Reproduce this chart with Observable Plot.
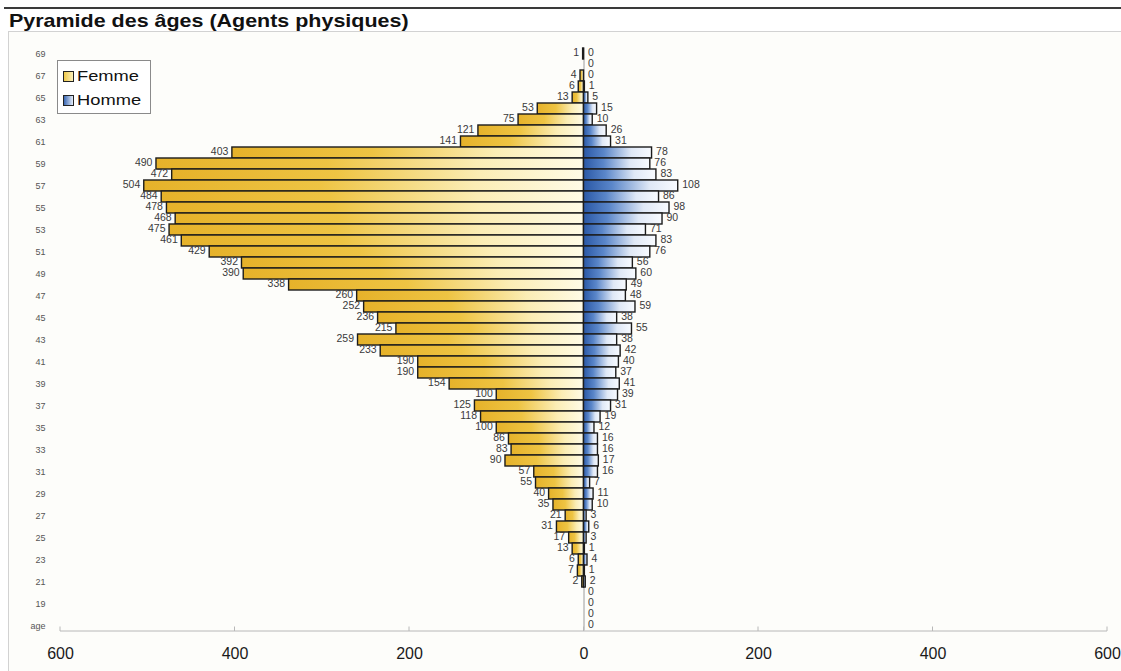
<!DOCTYPE html>
<html lang="fr">
<head>
<meta charset="utf-8">
<title>Pyramide des âges</title>
<script src="https://cdn.jsdelivr.net/npm/d3@7"></script>
<script src="https://cdn.jsdelivr.net/npm/@observablehq/plot@0.6"></script>
<style>
  body { margin: 0; background: #fff; font-family: "Liberation Sans", Arial, sans-serif; }
  #page { position: relative; width: 1121px; height: 671px; overflow: hidden; background: #fff; }
  #topline { position: absolute; left: 4px; top: 7px; width: 1117px; height: 2px; background: #3a3a3a; }
  #title { position: absolute; left: 9px; top: 10px; font-weight: bold; font-size: 18.5px; color: #111; white-space: nowrap;
           transform: scaleX(1.16); transform-origin: 0 0; }
  #box { position: absolute; left: 8px; top: 31px; width: 1130px; height: 660px; border: 1px solid #d2d2d2; background: #fdfdfa; }
  #chart { position: absolute; left: 0; top: 31px; }
  #legend { position: absolute; left: 57px; top: 60px; width: 92px; height: 52px; border: 1px solid #8a8a8a; background: #fff; }
  #legend .sw { position: absolute; left: 5px; width: 9px; height: 9px; border: 1px solid #222; }
  #legend .lab { position: absolute; left: 19px; font-size: 15px; color: #111; line-height: 18px; white-space: nowrap;
                 transform: scaleX(1.22); transform-origin: 0 50%; }
</style>
</head>
<body>
<div id="page">
  <div id="topline"></div>
  <div id="box"></div>
  <div id="title">Pyramide des âges (Agents physiques)</div>
  <div id="chart"></div>
  <div id="legend">
    <span class="sw" style="top:10px;background:linear-gradient(90deg,#eec84a,#fbf0bb)"></span>
    <div class="lab" style="top:6px">Femme</div>
    <span class="sw" style="top:34px;background:linear-gradient(90deg,#3b68b4,#e6eefa)"></span>
    <div class="lab" style="top:30px">Homme</div>
  </div>
</div>
<script>
// Age classes, top (oldest) to bottom; the last row is the header row "age"
const ages = ["69","68","67","66","65","64","63","62","61","60",
              "59","58","57","56","55","54","53","52","51","50",
              "49","48","47","46","45","44","43","42","41","40",
              "39","38","37","36","35","34","33","32","31","30",
              "29","28","27","26","25","24","23","22","21","20",
              "19","18","age"];

// Headcount of women per age
const femme = [1, 0, 4, 6, 13, 53, 75, 121, 141, 403,
               490, 472, 504, 484, 478, 468, 475, 461, 429, 392,
               390, 338, 260, 252, 236, 215, 259, 233, 190, 190,
               154, 100, 125, 118, 100, 86, 83, 90, 57, 55,
               40, 35, 21, 31, 17, 13, 6, 7, 2, 0,
               0, 0, 0];

// Headcount of men per age
const homme = [0, 0, 0, 1, 5, 15, 10, 26, 31, 78,
               76, 83, 108, 86, 98, 90, 71, 83, 76, 56,
               60, 49, 48, 59, 38, 55, 38, 42, 40, 37,
               41, 39, 31, 19, 12, 16, 16, 17, 16, 7,
               11, 10, 3, 6, 3, 1, 4, 1, 2, 0,
               0, 0, 0];

// Age labels shown on the vertical axis (every other class)
const ageTicks = ["69","67","65","63","61","59","57","55","53","51","49","47","45","43","41",
                  "39","37","35","33","31","29","27","25","23","21","19","age"];

// Horizontal axis ticks
const xTicks = [-600, -400, -200, 0, 200, 400, 600];

const rows = ages.map((age, i) => ({age, femme: femme[i], homme: homme[i]}));
const femmeRows = rows.filter(d => d.femme > 0);
const hommeRows = rows.filter(d => d.homme > 0);

const font = "Liberation Sans, Arial, sans-serif";

const chart = Plot.plot({
  width: 1121,
  height: 640,
  marginLeft: 60,
  marginRight: 14,
  marginTop: 16.5,
  marginBottom: 40.5,
  style: {fontFamily: font, background: "transparent", overflow: "visible"},
  x: {domain: [-600, 600], label: null},
  y: {type: "band", domain: ages, padding: 0, label: null},
  marks: [
    Plot.ruleX([0], {stroke: "#9c9c9c", strokeWidth: 1}),
    Plot.barX(femmeRows, {
      x1: 0, x2: d => -d.femme, y: "age",
      fill: "url(#gradFemme)", stroke: "#1c1c1c", strokeWidth: 1.4, inset: 0
    }),
    Plot.barX(hommeRows, {
      x1: 0, x2: "homme", y: "age",
      fill: "url(#gradHomme)", stroke: "#1c1c1c", strokeWidth: 1.4, inset: 0
    }),
    Plot.text(femmeRows, {
      x: d => -d.femme, y: "age", text: d => String(d.femme),
      textAnchor: "end", dx: -4, dy: -1, fontSize: 10.5, fill: "#3a3a3a"
    }),
    Plot.text(rows, {
      x: "homme", y: "age", text: d => String(d.homme),
      textAnchor: "start", dx: 4, dy: -1, fontSize: 10.5, fill: "#3a3a3a"
    }),
    Plot.axisY(ageTicks, {tickSize: 0, tickPadding: 15, fontSize: 9, color: "#555"}),
    Plot.axisX(xTicks, {tickSize: 0, tickPadding: 17, fontSize: 16, color: "#1a1a1a", tickFormat: d => String(Math.abs(d))})
  ]
});

// Bar gradients: gold fading toward the centre for women, blue fading outward for men
const svg = d3.select(chart);
const defs = svg.insert("defs", ":first-child");
const gF = defs.append("linearGradient").attr("id", "gradFemme")
  .attr("x1", "0").attr("x2", "1").attr("y1", "0").attr("y2", "0");
[["0%", "#e6b22a"], ["40%", "#eec443"], ["75%", "#fbedb5"], ["100%", "#fffbe6"]]
  .forEach(([o, c]) => gF.append("stop").attr("offset", o).attr("stop-color", c));
const gH = defs.append("linearGradient").attr("id", "gradHomme")
  .attr("x1", "0").attr("x2", "1").attr("y1", "0").attr("y2", "0");
[["0%", "#2a58a6"], ["30%", "#5a86c9"], ["70%", "#dfe8f6"], ["100%", "#f8fbff"]]
  .forEach(([o, c]) => gH.append("stop").attr("offset", o).attr("stop-color", c));

// Baseline of the horizontal axis with short upward ticks
const xs = chart.scale("x");
const ys = chart.scale("y");
const yBottom = ys.range[1];
const axisG = svg.append("g").attr("stroke", "#b8b8b8").attr("stroke-width", 1);
axisG.append("line")
  .attr("x1", xs.apply(-600)).attr("x2", xs.apply(600))
  .attr("y1", yBottom + 0.5).attr("y2", yBottom + 0.5);
xTicks.forEach(t => {
  axisG.append("line")
    .attr("x1", xs.apply(t)).attr("x2", xs.apply(t))
    .attr("y1", yBottom - 4).attr("y2", yBottom + 0.5);
});

document.getElementById("chart").appendChild(chart);
</script>
</body>
</html>
